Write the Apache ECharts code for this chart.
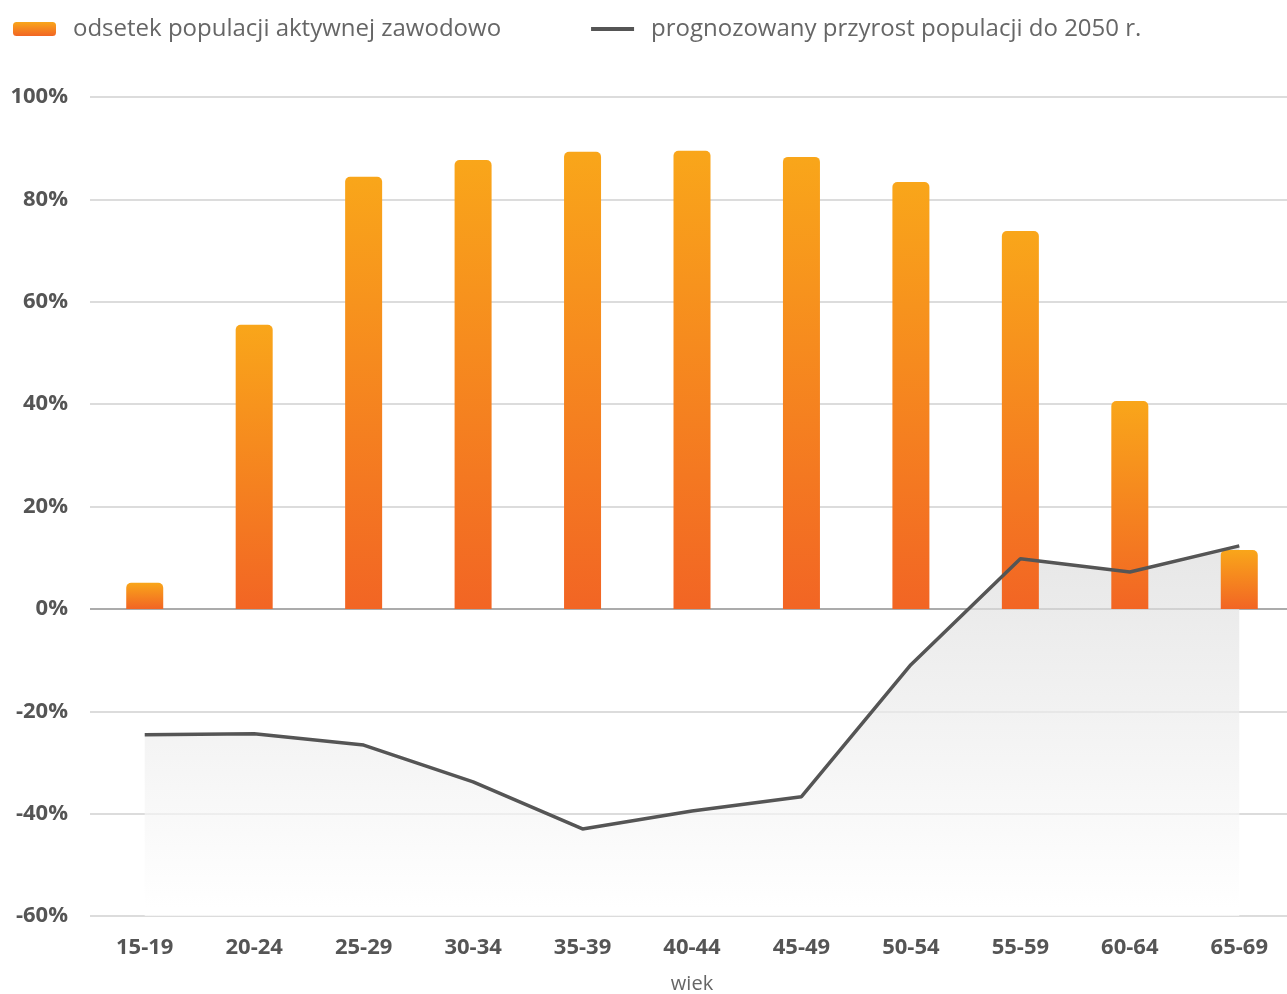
<!DOCTYPE html>
<html>
<head>
<meta charset="utf-8">
<style>
  html, body { margin: 0; padding: 0; background: #fff; }
  #chart { width: 1287px; height: 994px; }
</style>
<script src="https://cdn.jsdelivr.net/npm/echarts/dist/echarts.min.js"></script>
</head>
<body>
<div id="chart"></div>
<script>
// grupy wieku
const categories = ['15-19', '20-24', '25-29', '30-34', '35-39', '40-44', '45-49', '50-54', '55-59', '60-64', '65-69'];
// odsetek populacji aktywnej zawodowo (%)
const activeShare = [5.1, 55.5, 84.4, 87.7, 89.3, 89.5, 88.3, 83.4, 73.8, 40.6, 11.5];
// prognozowany przyrost populacji do 2050 r. (%)
const growth2050 = [-24.6, -24.4, -26.6, -33.8, -43.0, -39.5, -36.7, -10.9, 9.8, 7.2, 12.3];

const barName = 'odsetek populacji aktywnej zawodowo';
const lineName = 'prognozowany przyrost populacji do 2050 r.';

const chart = echarts.init(document.getElementById('chart'));

chart.setOption({
  animation: false,
  textStyle: {
    fontFamily: 'Open Sans'
  },
  legend: {
    left: 8,
    top: 12,
    itemGap: 90,
    itemWidth: 43,
    itemHeight: 14,
    textStyle: {
      color: '#666',
      fontSize: 24,
      padding: [0, 0, 0, 12]
    },
    data: [
      { name: barName, icon: 'roundRect' },
      { name: lineName, icon: 'path://M0,0 L42,0 L42,4 L0,4 Z', itemStyle: { color: '#555' } }
    ]
  },
  grid: {
    left: 90,
    top: 97,
    width: 1204,
    height: 819,
    containLabel: false,
    outerBoundsMode: 'none'
  },
  xAxis: {
    type: 'category',
    data: categories,
    name: 'wiek',
    nameLocation: 'middle',
    nameGap: 58,
    nameTextStyle: {
      color: '#666',
      fontSize: 20
    },
    axisLine: { show: false, onZero: false },
    axisTick: { show: false },
    axisLabel: {
      color: '#555',
      fontSize: 22,
      fontWeight: 'bold',
      margin: 21
    }
  },
  yAxis: {
    type: 'value',
    min: -60,
    max: 100,
    interval: 20,
    axisLine: { show: false },
    axisTick: { show: false },
    axisLabel: {
      formatter: '{value}%',
      color: '#555',
      fontSize: 22,
      fontWeight: 'bold',
      margin: 22
    },
    splitLine: {
      lineStyle: {
        // -60, -40, -20, 0 (ciemniejsza), 20 ... 100
        color: ['#dcdcdc', '#dcdcdc', '#dcdcdc', '#ababab', '#dcdcdc', '#dcdcdc', '#dcdcdc', '#dcdcdc', '#dcdcdc'],
        width: 2
      }
    }
  },
  series: [
    {
      // tło pod linią
      name: 'area',
      type: 'line',
      data: growth2050,
      symbol: 'none',
      silent: true,
      z: 1,
      lineStyle: { width: 0 },
      areaStyle: {
        origin: 'start',
        color: new echarts.graphic.LinearGradient(0, 0, 0, 1, [
          { offset: 0, color: '#dcdcdc' },
          { offset: 1, color: '#ffffff' }
        ])
      }
    },
    {
      name: barName,
      type: 'bar',
      data: activeShare,
      barWidth: 37,
      z: 3,
      itemStyle: {
        borderRadius: [5, 5, 0, 0],
        color: new echarts.graphic.LinearGradient(0, 0, 0, 1, [
          { offset: 0, color: '#f9a61a' },
          { offset: 1, color: '#f26524' }
        ])
      }
    },
    {
      name: lineName,
      type: 'line',
      data: growth2050,
      symbol: 'none',
      z: 4,
      color: '#555',
      lineStyle: {
        color: '#555',
        width: 3.5
      }
    }
  ]
});
</script>
</body>
</html>
